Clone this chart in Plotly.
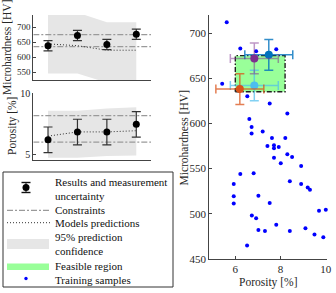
import plotly.graph_objects as go

W, H = 336, 293
FONT = "Liberation Serif, Times New Roman, serif"

# ---------------- data ----------------
exp_idx = [1, 2, 3, 4]
hv_results = [638, 672, 642, 676]
hv_uncert = [17, 17, 17, 17]
por_results = [6.2, 6.84, 6.84, 7.48]
por_uncert = [1.06, 1.06, 1.06, 1.06]
hv_pred = [644, 638, 623, 623]
hv_ci_upper = [748, 748, 716, 716]
hv_ci_lower = [546, 546, 515, 515]
por_pred = [6.5, 6.85, 6.85, 6.95]
por_ci_upper = [8.6, 8.6, 8.8, 8.9]
por_ci_lower = [4.7, 4.7, 4.85, 4.9]
hv_limits = [635, 675]
por_limits = [6.0, 8.2]
result_colors = ["#D95319", "#7E2F8E", "#4DBEEE", "#0072BD"]
result_bar_colors = ["rgba(217,83,25,0.75)", "rgba(126,47,142,0.5)",
                     "rgba(77,190,238,0.7)", "rgba(0,114,189,0.8)"]
draw_order = [3, 2, 1, 0]

train_por = [5.62, 6.22, 6.92, 7.81, 5.42, 6.53, 7.52, 8.30, 6.62, 6.72,
             6.72, 7.21, 7.62, 8.21, 7.42, 7.71, 7.92, 7.71, 7.71, 8.30,
             8.51, 8.01, 8.91, 6.22, 6.81, 5.93, 8.41, 8.91, 9.20, 9.30,
             5.93, 7.02, 5.93, 7.52, 9.70, 10.0, 6.73, 6.92, 7.81, 7.02,
             7.31, 8.41, 9.10, 9.50, 9.89, 6.52]
train_hv = [712, 683, 680, 682, 644, 630, 622, 611, 605, 596,
            589, 591, 584, 584, 575, 576, 574, 572.5, 562, 566,
            563, 556, 553, 544, 545, 533, 536, 533, 529, 526.5,
            519.5, 520, 511.5, 512, 503.5, 504.5, 498, 495, 488, 482,
            481, 481, 484, 477, 474, 465]

hv_ticks_left = [550, 600, 650, 700]
por_ticks_left = [5, 10]
por_ticks_right = [6, 8, 10]
hv_ticks_right = [450, 500, 550, 600, 650, 700]

legend_labels = ["Results and measurement<br>uncertainty", "Constraints",
                 "Models predictions", "95% prediction<br>confidence",
                 "Feasible region", "Training samples"]

BAND = "#e6e6e6"
CONSTR = "#9a9a9a"
GREEN = "rgb(153,255,153)"
AX = "#444444"


def px(x):
    return x / W


def py(y):
    return 1 - y / H


fig = go.Figure()

# ---------- top-left : microhardness ----------
fig.add_trace(go.Scatter(x=exp_idx, y=hv_ci_lower, mode="lines", line=dict(width=0),
                         xaxis="x", yaxis="y", showlegend=False, hoverinfo="skip"))
fig.add_trace(go.Scatter(x=exp_idx, y=hv_ci_upper, mode="lines", line=dict(width=0),
                         fill="tonexty", fillcolor=BAND,
                         xaxis="x", yaxis="y", showlegend=False, hoverinfo="skip"))
for c in hv_limits:
    fig.add_trace(go.Scatter(x=[0.5, 4.5], y=[c, c], mode="lines",
                             line=dict(color=CONSTR, width=1.3, dash="6px,2px,2px,2px"),
                             xaxis="x", yaxis="y", showlegend=False))
fig.add_trace(go.Scatter(x=exp_idx, y=hv_pred, mode="lines",
                         line=dict(color="#333333", width=1, dash="1px,2px"),
                         xaxis="x", yaxis="y", showlegend=False))
fig.add_trace(go.Scatter(x=exp_idx, y=hv_results, mode="markers",
                         marker=dict(color="black", size=7),
                         error_y=dict(type="data", array=hv_uncert, color="#333333",
                                      thickness=1.2, width=4.5),
                         xaxis="x", yaxis="y", showlegend=False, cliponaxis=False))

# ---------- bottom-left : porosity ----------
fig.add_trace(go.Scatter(x=exp_idx, y=por_ci_lower, mode="lines", line=dict(width=0),
                         xaxis="x2", yaxis="y2", showlegend=False, hoverinfo="skip"))
fig.add_trace(go.Scatter(x=exp_idx, y=por_ci_upper, mode="lines", line=dict(width=0),
                         fill="tonexty", fillcolor=BAND,
                         xaxis="x2", yaxis="y2", showlegend=False, hoverinfo="skip"))
for c in por_limits:
    fig.add_trace(go.Scatter(x=[0.5, 4.5], y=[c, c], mode="lines",
                             line=dict(color=CONSTR, width=1.3, dash="6px,2px,2px,2px"),
                             xaxis="x2", yaxis="y2", showlegend=False))
fig.add_trace(go.Scatter(x=exp_idx, y=por_pred, mode="lines",
                         line=dict(color="#333333", width=1, dash="1px,2px"),
                         xaxis="x2", yaxis="y2", showlegend=False))
fig.add_trace(go.Scatter(x=exp_idx, y=por_results, mode="markers",
                         marker=dict(color="black", size=7),
                         error_y=dict(type="data", array=por_uncert, color="#333333",
                                      thickness=1.2, width=4.5),
                         xaxis="x2", yaxis="y2", showlegend=False, cliponaxis=False))

# ---------- right : porosity vs microhardness ----------
fig.add_trace(go.Scatter(x=train_por, y=train_hv, mode="markers",
                         marker=dict(color="#0000ff", size=4),
                         xaxis="x3", yaxis="y3", showlegend=False, cliponaxis=False))
fig.add_trace(go.Scatter(x=[por_limits[0], por_limits[1], por_limits[1], por_limits[0], por_limits[0]],
                         y=[hv_limits[0], hv_limits[0], hv_limits[1], hv_limits[1], hv_limits[0]],
                         mode="lines", fill="toself", fillcolor=GREEN,
                         line=dict(color="#222222", width=1.4, dash="5px,2px,1.5px,2px"),
                         xaxis="x3", yaxis="y3", showlegend=False))
for i in draw_order:
    fig.add_trace(go.Scatter(x=[por_results[i]], y=[hv_results[i]], mode="markers",
                             marker=dict(color=result_colors[i], size=8),
                             error_x=dict(type="data", array=[por_uncert[i]],
                                          color=result_bar_colors[i], thickness=1.5, width=4.5),
                             error_y=dict(type="data", array=[hv_uncert[i]],
                                          color=result_bar_colors[i], thickness=1.5, width=4.5),
                             xaxis="x3", yaxis="y3", showlegend=False))

axis_common = dict(showline=True, linecolor=AX, linewidth=1, showgrid=False, zeroline=False,
                   ticks="inside", ticklen=3, tickcolor=AX, automargin=False,
                   tickfont=dict(family=FONT, color="#262626"))

fig.update_layout(
    width=W, height=H, margin=dict(l=0, r=0, t=0, b=0),
    paper_bgcolor="white", plot_bgcolor="rgba(0,0,0,0)",
    template="none", showlegend=False,
    xaxis=dict(axis_common, domain=[px(33.3), px(151)], range=[0.5, 4.5], anchor="y",
               ticks="", showticklabels=False),
    yaxis=dict(axis_common, domain=[py(80), py(15)], range=[524, 740], anchor="x",
               tickvals=hv_ticks_left, tickfont=dict(family=FONT, size=9, color="#262626")),
    xaxis2=dict(axis_common, domain=[px(33.3), px(151)], range=[0.5, 4.5], anchor="y2",
                ticks="", showticklabels=False),
    yaxis2=dict(axis_common, domain=[py(160), py(93)], range=[4.52, 10.08], anchor="x2",
                tickvals=por_ticks_left, tickfont=dict(family=FONT, size=10, color="#262626")),
    xaxis3=dict(axis_common, domain=[px(209.3), px(326.7)], range=[4.85, 10.04], anchor="y3",
                tickvals=por_ticks_right, tickfont=dict(family=FONT, size=11, color="#262626")),
    yaxis3=dict(axis_common, domain=[py(259), py(15)], range=[450, 720], anchor="x3",
                tickvals=hv_ticks_right, tickfont=dict(family=FONT, size=11, color="#262626")),
)

# ---------- axis titles ----------
titles = [
    ("Microhardness [HV]", 7.5, 47.5, -90),
    ("Porosity [%]", 13, 126, -90),
    ("Microhardness [HV]", 183.5, 137, -90),
    ("Porosity [%]", 268, 282, 0),
]
for text, x, y, ang in titles:
    fig.add_annotation(text=text, x=px(x), y=py(y), xref="paper", yref="paper",
                       showarrow=False, textangle=ang, xanchor="center", yanchor="middle",
                       font=dict(family=FONT, size=11.5, color="#262626"))

# ---------- legend (box, swatches, labels) ----------
shapes = []
shapes.append(dict(type="rect", xref="paper", yref="paper", x0=px(3), x1=px(173),
                   y0=py(287), y1=py(172), line=dict(color="#333333", width=1),
                   fillcolor="white", layer="above"))
shapes.append(dict(type="line", xref="paper", yref="paper", x0=px(26), x1=px(26),
                   y0=py(182.5), y1=py(192.5), line=dict(color="#333333", width=1.2)))
for yy in (182.5, 192.5):
    shapes.append(dict(type="line", xref="paper", yref="paper", x0=px(21.5), x1=px(30.5),
                       y0=py(yy), y1=py(yy), line=dict(color="#111111", width=1.4)))
shapes.append(dict(type="circle", xref="paper", yref="paper", x0=px(22.5), x1=px(29.5),
                   y0=py(191), y1=py(184), fillcolor="black", line=dict(width=0)))
shapes.append(dict(type="line", xref="paper", yref="paper", x0=px(7), x1=px(50),
                   y0=py(210.3), y1=py(210.3),
                   line=dict(color=CONSTR, width=1.3, dash="6px,2px,2px,2px")))
shapes.append(dict(type="line", xref="paper", yref="paper", x0=px(7), x1=px(50),
                   y0=py(222.7), y1=py(222.7),
                   line=dict(color="#333333", width=1, dash="1px,2px")))
shapes.append(dict(type="rect", xref="paper", yref="paper", x0=px(7), x1=px(49),
                   y0=py(249), y1=py(239), fillcolor=BAND, line=dict(width=0)))
shapes.append(dict(type="rect", xref="paper", yref="paper", x0=px(7), x1=px(49),
                   y0=py(270), y1=py(263.5), fillcolor=GREEN, line=dict(width=0)))
shapes.append(dict(type="circle", xref="paper", yref="paper", x0=px(24.3), x1=px(27.7),
                   y0=py(280.2), y1=py(276.8), fillcolor="#0000ff", line=dict(width=0)))
fig.update_layout(shapes=shapes)

legend_y = [188.5, 210, 223.3, 244, 265.7, 279.7]
for text, yy in zip(legend_labels, legend_y):
    fig.add_annotation(text=text, x=px(53), y=py(yy), xref="paper", yref="paper",
                       showarrow=False, xanchor="left", yanchor="middle", align="left",
                       font=dict(family=FONT, size=11, color="#111111"))

fig.write_html("out.html", config={"displayModeBar": False},
               post_script="document.body.style.margin='0';")
